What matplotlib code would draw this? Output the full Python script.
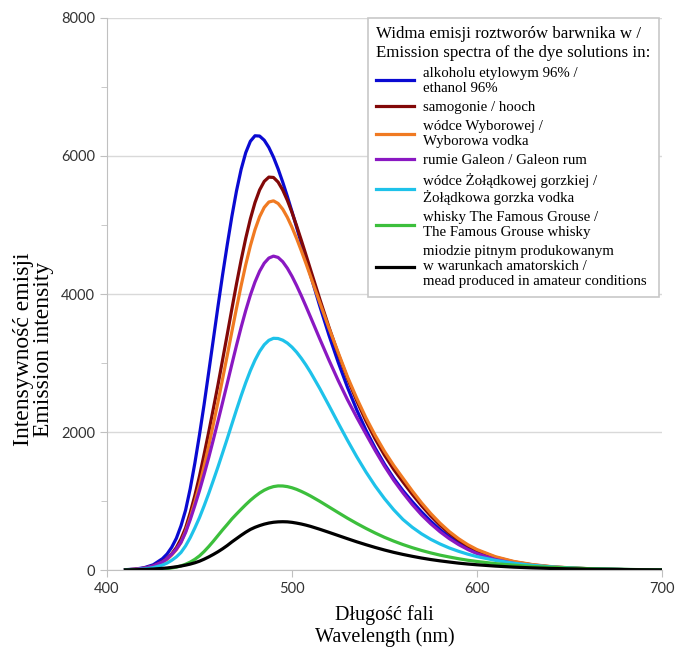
import numpy as np
import matplotlib.pyplot as plt

# wavelength grid (nm) and intensities
wl = [410, 415, 420, 425, 430, 432.5, 435, 437.5, 440, 442.5, 445, 447.5,
      450, 452.5, 455, 457.5, 460, 462.5, 465,
      467.5, 470, 472.5, 475, 477.5, 480, 482.5, 485, 487.5, 490, 492.5,
      495, 497.5, 500, 502.5, 505, 507.5,
      510, 515, 520, 525, 530, 535, 540, 545, 550, 555,
      560, 565, 570, 575, 580, 585, 590, 595, 600,
      610, 620, 630, 640, 650, 660, 670, 680, 690, 700]

ethanol = [5, 13, 33, 76, 165, 233, 330, 460, 640, 869, 1180, 1550,
           1960, 2400, 2870, 3345, 3821, 4280, 4713,
           5124, 5493, 5805, 6048, 6213, 6293, 6289, 6229, 6124, 5983, 5813,
           5621, 5414, 5194, 4968, 4737, 4506,
           4276, 3828, 3403, 3009, 2648, 2321, 2027, 1766, 1534, 1329,
           1150, 991, 843, 708, 587, 482, 393, 318, 256,
           166, 106, 68, 43, 27, 17, 11, 6, 4, 2]
hooch = [4, 10, 26, 58, 121, 169, 235, 325, 450, 611, 830, 1080,
         1360, 1675, 2000, 2340, 2684, 3048, 3413,
         3783, 4145, 4490, 4807, 5088, 5325, 5508, 5632, 5694, 5689, 5622,
         5507, 5357, 5182, 4988, 4783, 4571,
         4356, 3929, 3518, 3132, 2777, 2453, 2160, 1898, 1665, 1458,
         1275, 1099, 934, 785, 651, 534, 435, 352, 284,
         184, 118, 75, 47, 30, 19, 12, 7, 4, 2]
wyborowa = [3, 9, 23, 52, 109, 154, 218, 295, 400, 560, 760, 985,
            1230, 1508, 1800, 2115, 2435, 2772, 3109,
            3454, 3793, 4120, 4425, 4698, 4932, 5120, 5255, 5333, 5350, 5312,
            5229, 5111, 4967, 4805, 4630, 4447,
            4258, 3878, 3505, 3150, 2800, 2490, 2205, 1950, 1720, 1515,
            1330, 1147, 975, 819, 680, 558, 455, 368, 297,
            193, 124, 79, 50, 32, 20, 12, 7, 4, 2]
galeon = [4, 10, 26, 59, 118, 164, 227, 302, 400, 545, 730, 935,
          1150, 1385, 1630, 1890, 2157, 2430, 2704,
          2982, 3255, 3517, 3761, 3983, 4174, 4330, 4447, 4521, 4549, 4530,
          4468, 4374, 4257, 4123, 3978, 3825,
          3668, 3351, 3041, 2745, 2468, 2213, 1970, 1730, 1505, 1300,
          1118, 950, 800, 670, 555, 455, 370, 298, 238,
          152, 96, 61, 38, 24, 15, 9, 6, 3, 2]
zoladkowa = [2, 6, 15, 35, 72, 101, 141, 190, 255, 350, 470, 610,
             760, 930, 1110, 1300, 1495, 1698, 1903,
             2113, 2322, 2524, 2715, 2889, 3041, 3168, 3265, 3329, 3358, 3355,
             3331, 3289, 3230, 3157, 3070, 2973,
             2866, 2632, 2383, 2129, 1880, 1642, 1420, 1217, 1035, 873,
             732, 620, 525, 445, 378, 320, 272, 230, 195,
             140, 98, 68, 46, 31, 20, 13, 8, 4, 2]
whisky = [0, 1, 3, 6, 14, 20, 30, 42, 60, 84, 115, 155,
          205, 268, 340, 418, 500, 582, 660,
          740, 811, 880, 947, 1010, 1066, 1116, 1157, 1188, 1209, 1219,
          1218, 1209, 1192, 1169, 1140, 1108,
          1073, 996, 914, 832, 751, 675, 603, 536, 474, 419,
          369, 324, 284, 248, 216, 189, 164, 142, 124,
          93, 70, 52, 39, 28, 20, 14, 9, 5, 3]
mead = [2, 4, 8, 14, 24, 30, 38, 47, 58, 71, 86, 105,
        128, 157, 190, 226, 265, 308, 355,
        407, 455, 503, 548, 588, 619, 644, 665, 681, 692, 698,
        700, 698, 691, 680, 667, 651,
        633, 591, 546, 500, 454, 409, 367, 327, 290, 256,
        226, 199, 174, 152, 133, 116, 100, 87, 76,
        57, 42, 31, 23, 17, 12, 9, 6, 4, 2]

series = [ethanol, hooch, wyborowa, galeon, zoladkowa, whisky, mead]
labels = ['alkoholu etylowym 96% /\nethanol 96%',
          'samogonie / hooch',
          'wódce Wyborowej /\nWyborowa vodka',
          'rumie Galeon / Galeon rum',
          'wódce Żołądkowej gorzkiej /\nŻołądkowa gorzka vodka',
          'whisky The Famous Grouse /\nThe Famous Grouse whisky',
          'miodzie pitnym produkowanym\nw warunkach amatorskich /\nmead produced in amateur conditions']
colors = ['#0a0ad2', '#820808', '#f07a22', '#8a18c2', '#1ec2ea', '#3cbf3c', '#000000']

serif = 'Liberation Serif'

fig = plt.figure(figsize=(6.75, 6.54), dpi=100)
ax = fig.add_axes([0.1585, 0.1284, 0.8222, 0.8441])

for y, lab, c in zip(series, labels, colors):
    ax.plot(wl, y, color=c, lw=2.3, label=lab, solid_joinstyle='round')

ax.set_xlim(400, 700)
ax.set_ylim(0, 8000)
ax.set_xticks([400, 500, 600, 700])
ax.set_yticks([0, 2000, 4000, 6000, 8000])
ax.set_yticks(np.arange(1000, 8000, 2000), minor=True)
ax.yaxis.grid(True, color='#d9d9d9', lw=1)
ax.set_axisbelow(True)
for s in ['top', 'right']:
    ax.spines[s].set_visible(False)
for s in ['left', 'bottom']:
    ax.spines[s].set_color('#c0c0c0')
ax.tick_params(axis='both', which='major', colors='#c0c0c0', labelcolor='#333333',
               labelsize=10.5, length=5)
ax.tick_params(axis='y', which='minor', colors='#c0c0c0', length=4)
for t in ax.get_xticklabels() + ax.get_yticklabels():
    t.set_family('Lato')

ax.set_xlabel('Długość fali\nWavelength (nm)', family=serif, fontsize=14.5,
              linespacing=1.1, labelpad=7)
ax.set_ylabel('Intensywność emisji\nEmission intensity', family=serif, fontsize=17,
              linespacing=0.92)
ax.yaxis.set_label_coords(-0.096, 0.40)

leg = ax.legend(loc='upper right', bbox_to_anchor=(0.994, 1.0), borderaxespad=0,
                title='Widma emisji roztworów barwnika w /\nEmission spectra of the dye solutions in:',
                prop={'family': serif, 'size': 10.7},
                title_fontproperties={'family': serif, 'size': 12.2},
                alignment='left', handlelength=2.55, handletextpad=0.6,
                labelspacing=0.4, borderpad=0.55, fancybox=False,
                edgecolor='#c8c8c8', framealpha=1)
leg.get_frame().set_linewidth(1.2)

plt.savefig('out.png')
